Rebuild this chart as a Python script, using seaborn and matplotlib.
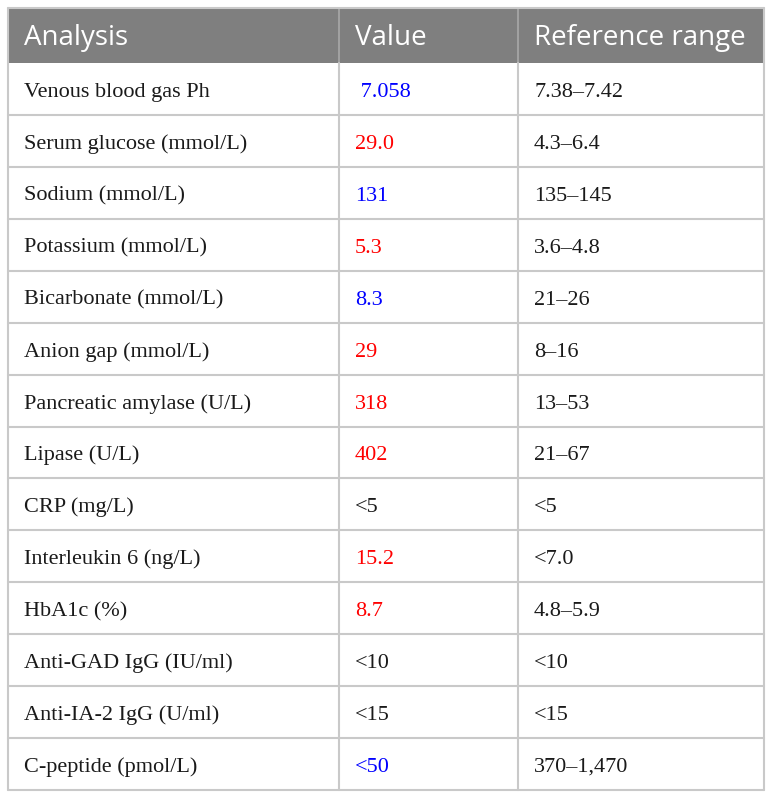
import seaborn as sns
import matplotlib.pyplot as plt
from matplotlib.patches import Rectangle

sns.set_theme(style="white")

# table content
headers = ["Analysis", "Value", "Reference range"]
analyses = ["Venous blood gas Ph", "Serum glucose (mmol/L)", "Sodium (mmol/L)",
            "Potassium (mmol/L)", "Bicarbonate (mmol/L)", "Anion gap (mmol/L)",
            "Pancreatic amylase (U/L)", "Lipase (U/L)", "CRP (mg/L)",
            "Interleukin 6 (ng/L)", "HbA1c (%)", "Anti-GAD IgG (IU/ml)",
            "Anti-IA-2 IgG (U/ml)", "C-peptide (pmol/L)"]
values = [" 7.058", "29.0", "131", "5.3", "8.3", "29", "318", "402", "<5",
          "15.2", "8.7", "<10", "<15", "<50"]
ranges = ["7.38\u20137.42", "4.3\u20136.4", "135\u2013145", "3.6\u20134.8",
          "21\u201326", "8\u201316", "13\u201353", "21\u201367", "<5", "<7.0",
          "4.8\u20135.9", "<10", "<15", "370\u20131,470"]
# flag: high / low / normal
flags = ["low", "high", "low", "high", "low", "high", "high", "high", "normal",
         "high", "high", "normal", "normal", "low"]
flag_colors = {"high": "#ff0000", "low": "#0000ff", "normal": "#1a1a1a"}

W, H = 772, 801
fig = plt.figure(figsize=(W / 100, H / 100), dpi=100)
ax = fig.add_axes([0, 0, 1, 1])
ax.set_xlim(0, W)
ax.set_ylim(H, 0)
ax.axis("off")

left, right = 8, 764
col_x = [8, 339, 518, 764]
top, head_bot, bottom = 8, 63, 790
row_h = (bottom - head_bot) / len(analyses)
line_col = "#c9c9c9"

# header
ax.add_patch(Rectangle((left, top), right - left, head_bot - top,
                       facecolor="#7f7f7f", edgecolor="none"))
for i, h in enumerate(headers):
    ax.text(col_x[i] + 16, (top + head_bot) / 2 + 9.5, h, color="white",
            fontsize=20, family="Open Sans", va="baseline", ha="left")
for x in col_x[1:-1]:
    ax.plot([x, x], [top, head_bot], color="#a8a8a8", lw=1.2)

# body
serif = "Liberation Serif"
for r in range(len(analyses)):
    yc = head_bot + row_h * (r + 0.5) + 8
    ax.text(col_x[0] + 16, yc, analyses[r], fontsize=16, family=serif,
            color="#1a1a1a", va="baseline", ha="left")
    ax.text(col_x[1] + 16, yc, values[r], fontsize=16, family=serif,
            color=flag_colors[flags[r]], va="baseline", ha="left")
    ax.text(col_x[2] + 16, yc, ranges[r], fontsize=16, family=serif,
            color="#1a1a1a", va="baseline", ha="left")
    yb = head_bot + row_h * (r + 1)
    ax.plot([left, right], [yb, yb], color=line_col, lw=1.5)

for x in col_x:
    ax.plot([x, x], [head_bot, bottom], color=line_col, lw=1.5)
ax.plot([left, right], [top, top], color=line_col, lw=1.5)
for x in (left, right):
    ax.plot([x, x], [top, head_bot], color=line_col, lw=1.5)

fig.savefig("out.png", dpi=100, facecolor="white")
